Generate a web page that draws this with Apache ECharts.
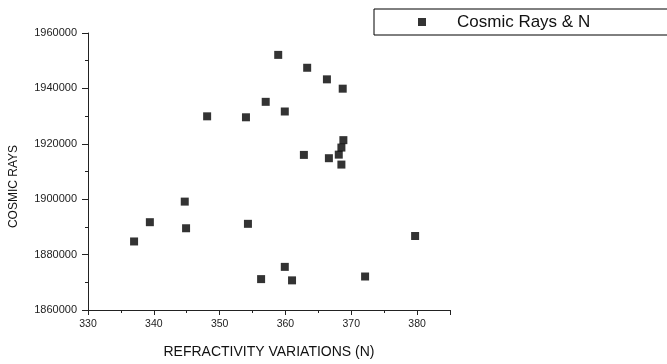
<!DOCTYPE html>
<html>
<head>
<meta charset="utf-8">
<script src="https://cdn.jsdelivr.net/npm/echarts@6/dist/echarts.min.js"></script>
<style>html,body{margin:0;padding:0;background:#fff}#c{width:667px;height:364px}</style>
</head>
<body>
<div id="c"></div>
<script>
var refractivity = [358.9, 363.3, 366.3, 368.7, 357.0, 359.9, 348.1, 354.0, 368.8, 368.5, 362.8, 366.6, 368.1, 368.5, 344.7, 339.4, 344.9, 354.3, 379.7, 337.0, 359.9, 356.3, 361.0, 372.1];
var cosmicRays = [1952100, 1947450, 1943270, 1939900, 1935150, 1931660, 1929920, 1929570, 1921320, 1918640, 1915990, 1914800, 1916090, 1912500, 1899130, 1891700, 1889510, 1891110, 1886720, 1884740, 1875570, 1871150, 1870700, 1872090];
var seriesName = 'Cosmic Rays & N';
var xTitle = 'REFRACTIVITY VARIATIONS (N)';
var yTitle = 'COSMIC RAYS';

var points = refractivity.map(function (x, i) { return [x, cosmicRays[i]]; });
var font = 'Liberation Sans, Arial, sans-serif';
var chart = echarts.init(document.getElementById('c'), null, {renderer: 'canvas'});
chart.setOption({
  animation: false,
  backgroundColor: '#fff',
  grid: {left: 82, right: 217, top: 33, bottom: 44},
  legend: {
    left: 374, top: 9,
    orient: 'horizontal',
    borderColor: '#000', borderWidth: 1, backgroundColor: '#fff',
    padding: [4, 120, 4, 44],
    itemWidth: 8, itemHeight: 8,
    icon: 'rect',
    textStyle: {fontFamily: font, fontSize: 17, lineHeight: 18, color: '#111', padding: [0, 0, 0, 26]},
    data: [seriesName]
  },
  xAxis: [{
    type: 'value', min: 330, max: 385, interval: 5,
    name: xTitle, nameLocation: 'middle', nameGap: 35,
    nameTextStyle: {fontFamily: font, fontSize: 14, color: '#111'},
    axisLine: {show: true, lineStyle: {color: '#222', width: 1}},
    axisTick: {show: true, length: 3, lineStyle: {color: '#222'}},
    axisLabel: {
      margin: 9, fontFamily: font, fontSize: 10.5, color: '#222', showMaxLabel: false,
      formatter: function (v) { return v % 10 === 0 ? String(v) : ''; }
    },
    splitLine: {show: false}
  }, {
    type: 'value', min: 330, max: 385, interval: 10, position: 'bottom',
    axisLine: {show: false},
    axisTick: {show: true, length: 5, lineStyle: {color: '#222'}},
    axisLabel: {show: false},
    splitLine: {show: false}
  }],
  yAxis: {
    type: 'value', min: 1860000, max: 1960000, interval: 20000,
    name: yTitle, nameLocation: 'middle', nameGap: 68, nameRotate: 90,
    nameTextStyle: {fontFamily: font, fontSize: 12, color: '#111', padding: [0, 30, 0, 0]},
    axisLine: {show: true, lineStyle: {color: '#222', width: 1}},
    axisTick: {show: true, length: 6, lineStyle: {color: '#222'}},
    minorTick: {show: true, splitNumber: 2, length: 3, lineStyle: {color: '#222'}},
    axisLabel: {margin: 11, fontFamily: font, fontSize: 11, color: '#222',
      formatter: function (v) { return String(v); }},
    splitLine: {show: false}
  },
  series: [{
    name: seriesName,
    type: 'scatter',
    symbol: 'rect',
    symbolSize: 8,
    itemStyle: {color: '#000'},
    data: points
  }]
});
</script>
</body>
</html>
